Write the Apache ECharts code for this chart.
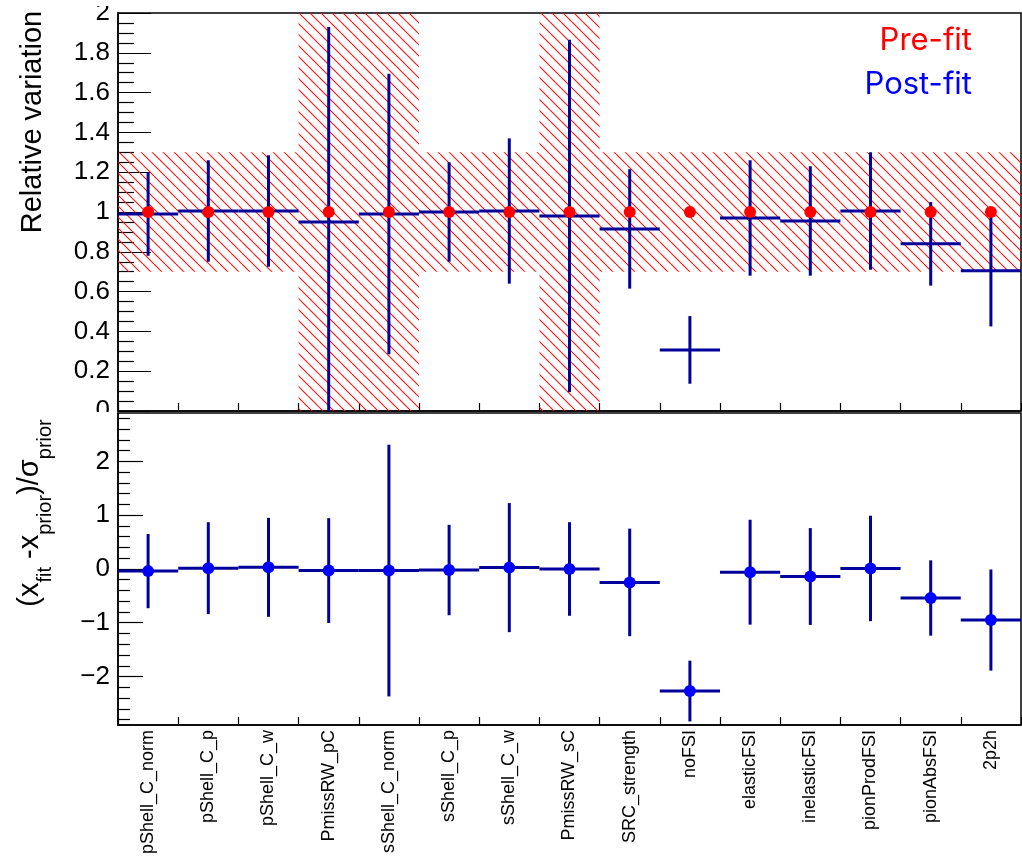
<!DOCTYPE html>
<html><head><meta charset="utf-8">
<script src="https://cdn.jsdelivr.net/npm/echarts@6/dist/echarts.min.js"></script>
<style>html,body{margin:0;padding:0;background:#fff}#c{width:1022px;height:857px}</style>
</head><body><div id="c"></div><script>
// ---- data ----
const categories = ['pShell_C_norm','pShell_C_p','pShell_C_w','PmissRW_pC','sShell_C_norm','sShell_C_p','sShell_C_w','PmissRW_sC','SRC_strength','noFSI','elasticFSI','inelasticFSI','pionProdFSI','pionAbsFSI','2p2h'];
const preFitValue  = [1, 1, 1, 1, 1, 1, 1, 1, 1, 1, 1, 1, 1, 1, 1];
const preFitError  = [0.3, 0.3, 0.3, 1.0, 1.0, 0.3, 0.3, 1.0, 0.3, 0.3, 0.3, 0.3, 0.3, 0.3, 0.3];
const postFitValue = [0.99, 1.005, 1.005, 0.95, 0.99, 1.0, 1.005, 0.98, 0.915, 0.307, 0.97, 0.955, 1.005, 0.84, 0.705];
const postFitError = [0.21, 0.255, 0.28, 0.98, 0.705, 0.25, 0.365, 0.885, 0.30, 0.17, 0.29, 0.275, 0.295, 0.21, 0.28];
const pullValue    = [-0.04, 0.015, 0.03, -0.03, -0.03, -0.02, 0.025, 0.0, -0.25, -2.27, -0.06, -0.14, 0.01, -0.54, -0.95];
const pullError    = [0.69, 0.855, 0.92, 0.975, 2.34, 0.84, 1.2, 0.87, 1.0, 0.565, 0.975, 0.9, 0.98, 0.7, 0.94];
const relTicksInterval = 0.2;
const pullMajorTicks = [-2, -1, 0, 1, 2];
const pullMinorTicks = [-2.8,-2.6,-2.4,-2.2,-1.8,-1.6,-1.4,-1.2,-0.8,-0.6,-0.4,-0.2,0.2,0.4,0.6,0.8,1.2,1.4,1.6,1.8,2.2,2.4,2.6,2.8];

// ---- style ----
const NAVY = '#00009a';
const FONT = 'Liberation Sans';

function makeHatch() {
  const d = 11;
  const c = document.createElement('canvas');
  c.width = d; c.height = d;
  const ctx = c.getContext('2d');
  ctx.strokeStyle = '#ff1010';
  ctx.lineWidth = 1.1;
  ctx.beginPath();
  for (const k of [-1, 0, 1]) { ctx.moveTo(k * d, 0); ctx.lineTo(k * d + d, d); }
  ctx.stroke();
  return c;
}
const hatchPattern = { image: makeHatch(), repeat: 'repeat' };

function csRect(params) {
  const cs = params.coordSys;
  return { x: cs.x, y: cs.y, width: cs.width, height: cs.height };
}

function boxRender(params, api) {
  const i = api.value(0), v = api.value(1), e = api.value(2);
  const p1 = api.coord([i, v + e]);
  const p2 = api.coord([i, v - e]);
  const w = api.size([1, 0])[0];
  const shape = echarts.graphic.clipRectByRect(
    { x: p1[0] - w / 2, y: p1[1], width: w, height: p2[1] - p1[1] }, csRect(params));
  if (!shape) return null;
  return { type: 'rect', shape: shape, style: { fill: hatchPattern, stroke: null } };
}

function crossRender(params, api) {
  const i = api.value(0), v = api.value(1), e = api.value(2);
  const cs = csRect(params);
  const c = api.coord([i, v]);
  const w = api.size([1, 0])[0];
  const top = Math.max(api.coord([i, v + e])[1], cs.y);
  const bot = Math.min(api.coord([i, v - e])[1], cs.y + cs.height);
  return { type: 'group', children: [
    { type: 'line', shape: { x1: c[0] - w / 2, y1: c[1], x2: c[0] + w / 2, y2: c[1] }, style: { stroke: NAVY, lineWidth: 3 } },
    { type: 'line', shape: { x1: c[0], y1: top, x2: c[0], y2: bot }, style: { stroke: NAVY, lineWidth: 3 } }
  ]};
}

const priorData = categories.map((c, i) => [i, preFitValue[i], preFitError[i]]);
const postData = categories.map((c, i) => [i, postFitValue[i], postFitError[i]]);
const pullData = categories.map((c, i) => [i, pullValue[i], pullError[i]]);

const minus = v => String(v).replace('-', '\u2212');

const chart = echarts.init(document.getElementById('c'), null, { renderer: 'canvas' });
const xCommon = {
  type: 'category', data: categories, boundaryGap: true, position: 'bottom',
  axisLine: { show: true, onZero: false, lineStyle: { color: '#000', width: 1.5 } },
  axisTick: { show: true, inside: true, length: 8, interval: 0, lineStyle: { color: '#000', width: 1.2 } },
  splitLine: { show: false }
};
chart.setOption({
  animation: false,
  backgroundColor: '#fff',
  grid: [
    { left: 118, top: 13, width: 903, height: 398, show: true, borderColor: '#000', borderWidth: 1.5, backgroundColor: 'transparent' },
    { left: 118, top: 413, width: 903, height: 313, show: true, borderColor: '#000', borderWidth: 1.5, backgroundColor: 'transparent' }
  ],
  xAxis: [
    Object.assign({}, xCommon, { gridIndex: 0, axisLabel: { show: false } }),
    Object.assign({}, xCommon, { gridIndex: 1, axisLabel: { show: true, interval: 0, rotate: 90, fontSize: 18, fontFamily: FONT, color: '#000', margin: 5 } })
  ],
  yAxis: [
    { type: 'value', gridIndex: 0, min: 0, max: 2, interval: relTicksInterval, position: 'left',
      axisLine: { show: true, onZero: false, lineStyle: { color: '#000', width: 1.5 } },
      axisTick: { show: true, inside: true, length: 33, lineStyle: { color: '#000', width: 1.2 } },
      minorTick: { show: true, splitNumber: 4, length: 16, lineStyle: { color: '#000', width: 1.2 } },
      splitLine: { show: false },
      axisLabel: { fontSize: 26, fontFamily: FONT, color: '#000', margin: 8 } },
    { type: 'value', gridIndex: 1, min: -2.9, max: 2.9, position: 'left',
      axisLine: { show: true, onZero: false, lineStyle: { color: '#000', width: 1.5 } },
      axisTick: { show: true, inside: true, length: 25, customValues: pullMajorTicks, lineStyle: { color: '#000', width: 1.2 } },
      splitLine: { show: false },
      axisLabel: { fontSize: 26, fontFamily: FONT, color: '#000', margin: 8, customValues: pullMajorTicks, formatter: minus } },
    { type: 'value', gridIndex: 1, min: -2.9, max: 2.9, position: 'left', offset: 0,
      axisLine: { show: false, onZero: false },
      axisTick: { show: true, inside: true, length: 12, customValues: pullMinorTicks, lineStyle: { color: '#000', width: 1.2 } },
      splitLine: { show: false },
      axisLabel: { show: false } }
  ],
  series: [
    { type: 'custom', name: 'prior', xAxisIndex: 0, yAxisIndex: 0, renderItem: boxRender, data: priorData, clip: true },
    { type: 'scatter', name: 'Pre-fit', xAxisIndex: 0, yAxisIndex: 0, data: preFitValue, symbol: 'circle', symbolSize: 12, itemStyle: { color: '#ff0000', opacity: 1 } },
    { type: 'custom', name: 'Post-fit', xAxisIndex: 0, yAxisIndex: 0, renderItem: crossRender, data: postData, clip: true },
    { type: 'custom', name: 'pull', xAxisIndex: 1, yAxisIndex: 1, renderItem: crossRender, data: pullData, clip: true },
    { type: 'scatter', name: 'pullPts', xAxisIndex: 1, yAxisIndex: 1, data: pullValue, symbol: 'circle', symbolSize: 12, itemStyle: { color: '#0000ff', opacity: 1 } }
  ],
  graphic: [
    { type: 'rect', left: 50, top: 0, shape: { width: 66, height: 6 }, style: { fill: '#fff' }, z: 50 },
    { type: 'rect', left: 50, top: 412, shape: { width: 66, height: 14 }, style: { fill: '#fff' }, z: 50 },
    { type: 'text', x: 33, y: 122, rotation: Math.PI / 2, z: 60,
      style: { text: 'Relative variation', fontSize: 29, fontFamily: FONT, fill: '#000', align: 'center', verticalAlign: 'middle' } },
    { type: 'text', x: 30, y: 513, rotation: Math.PI / 2, z: 60,
      style: { text: '{m|(x}{s|fit}{m| -x}{s|prior}{m|)/\u03c3}{s|prior}', align: 'center', verticalAlign: 'middle',
        rich: { m: { fontSize: 29, fontFamily: FONT, fill: '#000' },
                s: { fontSize: 20, fontFamily: FONT, fill: '#000', padding: [30, 0, 0, 0] } } } },
    { type: 'text', x: 972, y: 41, z: 60,
      style: { text: 'Pre-fit', fontSize: 31, fontFamily: 'Inter', fill: '#ff0000', align: 'right', verticalAlign: 'middle' } },
    { type: 'text', x: 972, y: 85, z: 60,
      style: { text: 'Post-fit', fontSize: 31, fontFamily: 'Inter', fill: '#0000ff', align: 'right', verticalAlign: 'middle' } }
  ]
});
</script></body></html>
